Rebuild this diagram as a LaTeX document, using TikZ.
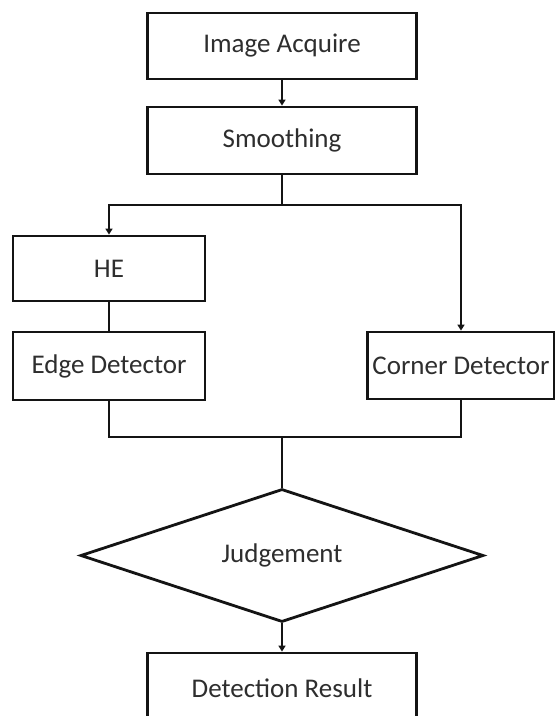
\documentclass[tikz,border=0pt]{standalone}
\usepackage{fontspec}
\setmainfont{Carlito}
\usetikzlibrary{shapes.geometric,arrows.meta}

\definecolor{inkline}{HTML}{141414}
\definecolor{inktext}{HTML}{2E2E2E}

\tikzset{
  flow/.style={line width=2.8pt, draw=inkline},
  arrowline/.style={flow, -{Triangle[length=6pt,width=7pt]}},
  stepbox/.style={rectangle, draw=inkline, line width=2.8pt, fill=white,
    text=inktext, inner sep=0pt,
    font=\fontsize{27}{31}\selectfont},
  decision/.style={diamond, draw=inkline, line width=2.8pt, fill=white,
    text=inktext, inner sep=0pt, aspect=3,
    font=\fontsize{27}{31}\selectfont},
}

\begin{document}
\begin{tikzpicture}[x=1pt,y=-1pt]
  \clip (0,0) rectangle (555,716);
  \fill[white] (0,0) rectangle (555,716);

  % processing steps
  \node[stepbox, minimum width=269pt, minimum height=66pt] (acq) at (282,46) {Image Acquire};
  \node[stepbox, minimum width=269pt, minimum height=67pt] (smooth) at (282,140.5) {Smoothing};
  \node[stepbox, minimum width=192pt, minimum height=65pt] (he) at (109,268.5) {HE};
  \node[stepbox, minimum width=192pt, minimum height=68pt] (edge) at (109,366) {Edge Detector};
  \node[stepbox, minimum width=187pt, minimum height=67pt] (corner) at (461,365.5) {Corner Detector};
  \node[decision, minimum width=403pt, minimum height=133pt] (judge) at (282,555.5) {Judgement};
  \node[stepbox, minimum width=269pt, minimum height=70pt] (result) at (282,688) {Detection Result};

  % branch and join points
  \coordinate (split) at (282,205);
  \coordinate (join) at (282,437);

  % connectors
  \draw[arrowline] (acq) -- (smooth);
  \draw[flow] (smooth.south) -- (split);
  \draw[arrowline] (split) -| (he.north);
  \draw[arrowline] (split) -| (corner.north);
  \draw[flow] (he) -- (edge);
  \draw[flow] (edge.south) |- (join);
  \draw[flow] (corner.south) |- (join);
  \draw[flow] (join) -- (judge.north);
  \draw[arrowline] (judge.south) -- (result.north);
\end{tikzpicture}
\end{document}
